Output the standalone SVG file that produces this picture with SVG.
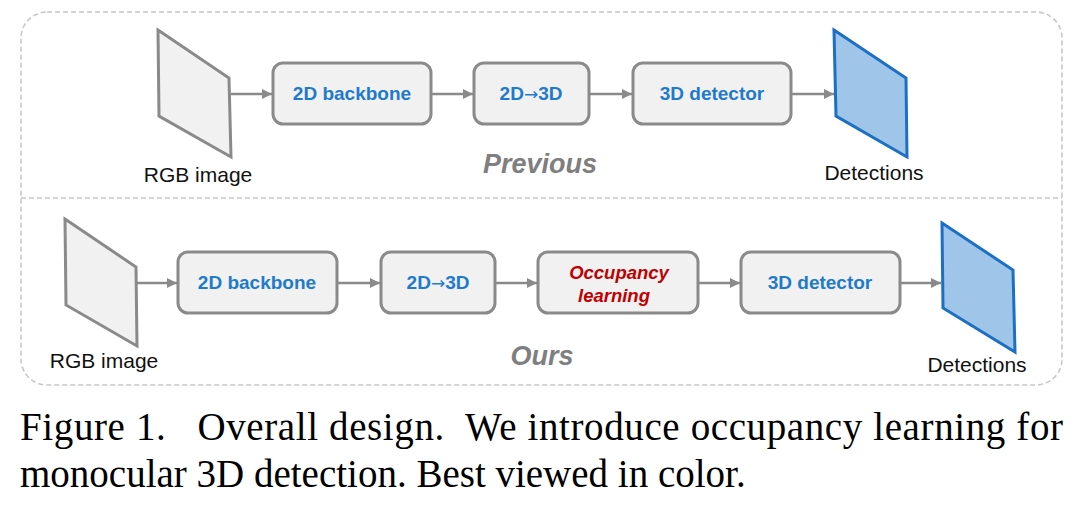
<svg xmlns="http://www.w3.org/2000/svg" width="1080" height="508" viewBox="0 0 1080 508">
<style>
.frame{fill:none;stroke:#c8c8c8;stroke-width:1.6;stroke-dasharray:5 3}
.box{fill:#f1f1f1;stroke:#8a8a8a;stroke-width:3}
.img{fill:#f1f1f1;stroke:#8a8a8a;stroke-width:3;stroke-linejoin:miter}
.det{fill:#9fc5e8;stroke:#1c70c4;stroke-width:3;stroke-linejoin:miter}
.lbl{font-family:"Liberation Sans",Arial,sans-serif;font-weight:bold;font-size:19px;fill:#1f7acb;text-anchor:middle}
.arr{font-family:"DejaVu Sans",sans-serif;font-weight:normal;font-size:17px}
.occ{font-family:"Liberation Sans",Arial,sans-serif;font-weight:bold;font-style:italic;font-size:18.5px;fill:#c00000;text-anchor:middle}
.cap{font-family:"Liberation Sans",Arial,sans-serif;font-size:21px;fill:#111;text-anchor:middle}
.title{font-family:"Liberation Sans",Arial,sans-serif;font-weight:bold;font-style:italic;font-size:27px;fill:#7f7f7f;text-anchor:middle}
.fig{font-family:"Liberation Serif","Times New Roman",serif;font-size:39px;fill:#000;white-space:pre}
.conn{stroke:#8a8a8a;stroke-width:2.5;fill:none;marker-end:url(#ah)}
</style>
<defs>
<marker id="ah" viewBox="0 0 10 10" refX="10" refY="5" markerWidth="4" markerHeight="4" orient="auto" markerUnits="strokeWidth">
<path d="M0,0 L10,5 L0,10 z" fill="#8a8a8a"/>
</marker>
</defs>
<rect width="1080" height="508" fill="#fff"/>
<g id="frame">
<rect class="frame" x="21" y="12" width="1041" height="373" rx="26"/>
<line class="frame" x1="21" y1="198" x2="1062" y2="198"/>
</g>
<g id="connectors">
<line class="conn" x1="231" y1="94" x2="272" y2="94"/>
<line class="conn" x1="431" y1="94" x2="473" y2="94"/>
<line class="conn" x1="589" y1="94" x2="632" y2="94"/>
<line class="conn" x1="791" y1="94" x2="834" y2="94"/>
<line class="conn" x1="137" y1="283" x2="177" y2="283"/>
<line class="conn" x1="337" y1="283" x2="380" y2="283"/>
<line class="conn" x1="495" y1="283" x2="537" y2="283"/>
<line class="conn" x1="698" y1="283" x2="740" y2="283"/>
<line class="conn" x1="900" y1="283" x2="941" y2="283"/>
</g>
<g id="prev-rgb">
<polygon class="img" points="158,30 229,78 231,157 159,116"/>
<text class="cap" x="198" y="182">RGB image</text>
</g>
<g id="prev-backbone">
<rect class="box" x="273" y="63" width="158" height="61" rx="10"/>
<text class="lbl" x="352" y="100">2D backbone</text>
</g>
<g id="prev-2d3d">
<rect class="box" x="474" y="63" width="115" height="61" rx="10"/>
<text class="lbl" x="531" y="100">2D<tspan class="arr">→</tspan>3D</text>
</g>
<g id="prev-detector">
<rect class="box" x="633" y="63" width="158" height="61" rx="10"/>
<text class="lbl" x="712" y="100">3D detector</text>
</g>
<g id="prev-detections">
<polygon class="det" points="834,30 906,78 907,157 836,116"/>
<text class="cap" x="874" y="180">Detections</text>
</g>
<text class="title" x="540" y="173">Previous</text>
<g id="ours-rgb">
<polygon class="img" points="65,219 136,267 137,346 66,305"/>
<text class="cap" x="104" y="368">RGB image</text>
</g>
<g id="ours-backbone">
<rect class="box" x="178" y="252" width="159" height="61" rx="10"/>
<text class="lbl" x="257" y="289">2D backbone</text>
</g>
<g id="ours-2d3d">
<rect class="box" x="381" y="252" width="114" height="61" rx="10"/>
<text class="lbl" x="438" y="289">2D<tspan class="arr">→</tspan>3D</text>
</g>
<g id="ours-occupancy">
<rect class="box" x="538" y="252" width="160" height="61" rx="10"/>
<text class="occ" x="619" y="279">Occupancy</text>
<text class="occ" x="614" y="302">learning</text>
</g>
<g id="ours-detector">
<rect class="box" x="741" y="252" width="159" height="61" rx="10"/>
<text class="lbl" x="820" y="289">3D detector</text>
</g>
<g id="ours-detections">
<polygon class="det" points="942,223 1013,270 1015,352 943,308"/>
<text class="cap" x="977" y="372">Detections</text>
</g>
<text class="title" x="542" y="365">Ours</text>
<text class="fig" x="20" y="440" textLength="1043" lengthAdjust="spacing">Figure 1.   Overall design.  We introduce occupancy learning for</text>
<text class="fig" x="20" y="487">monocular 3D detection. Best viewed in color.</text>
</svg>
